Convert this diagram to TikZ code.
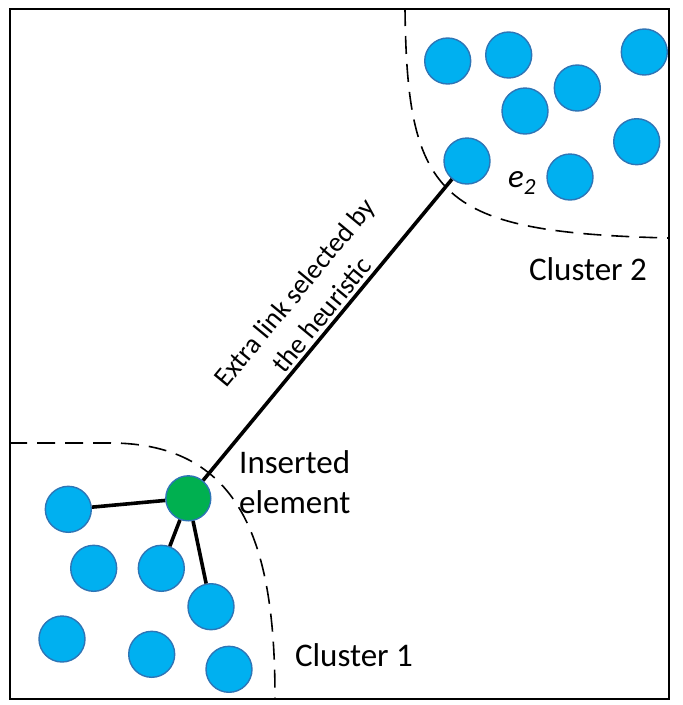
\documentclass[tikz,border=0pt]{standalone}
\usepackage{fontspec}
\setmainfont{Carlito}
\definecolor{dotblue}{RGB}{0,176,240}
\definecolor{dotedge}{RGB}{46,117,182}
\definecolor{dotgreen}{RGB}{0,176,80}
\tikzset{
  dot/.style={circle, fill=dotblue, draw=dotedge, line width=1.4pt, minimum size=46pt, inner sep=0pt},
  newdot/.style={dot, fill=dotgreen, minimum size=45pt},
  link/.style={line width=3.6pt, black},
  boundary/.style={line width=1.6pt, dash pattern=on 18pt off 10pt},
  lbl/.style={font=\fontsize{33}{40}\selectfont, inner sep=0pt},
  linklbl/.style={font=\fontsize{27.5}{35}\selectfont, align=center, inner sep=3pt}
}
\begin{document}
\begin{tikzpicture}[x=1pt, y=-1pt]
\useasboundingbox (0,0) rectangle (683,705);
% frame
\node[draw, line width=2.2pt, minimum width=659pt, minimum height=690pt, inner sep=0pt, anchor=north west] (frame) at (9,8) {};
% cluster boundaries
\begin{scope}
\clip (9,8) rectangle (668,698);
\draw[boundary] (9,443) -- (110,443) .. controls (245,443) and (275,550) .. (275,698);
\draw[boundary] (405,8) .. controls (407,200) and (440,232) .. (668,238);
\end{scope}
% cluster 2
\node[dot] (b1) at (447.7,61) {};
\node[dot] (b2) at (508.7,55) {};
\node[dot] (b3) at (644.3,52) {};
\node[dot] (b4) at (577.3,88) {};
\node[dot] (b5) at (525,111) {};
\node[dot] (b6) at (636.7,141.7) {};
\node[dot] (e2) at (467,161) {};
\node[dot] (b7) at (570,177) {};
% cluster 1
\node[dot] (a1) at (68.3,509.3) {};
\node[dot] (a2) at (93.7,568.3) {};
\node[dot] (a3) at (161.3,568.3) {};
\node[dot] (a4) at (211,606.7) {};
\node[dot] (a5) at (62,639) {};
\node[dot] (a6) at (151.7,654.3) {};
\node[dot] (a7) at (229,669.3) {};
\node[newdot] (ins) at (188.3,498.3) {};
% links
\draw[link] (ins) -- (a1);
\draw[link] (ins) -- (a3);
\draw[link] (ins) -- (a4);
\draw[link] (ins) -- node[linklbl, pos=0.52, above, sloped] (xlbl) {Extra link selected by\\the heuristic} (e2);
% labels
\node[lbl] (e2lbl) at (522,183) {\itshape e\textsubscript{2}};
\node[lbl] (c2lbl) at (588,269) {Cluster 2};
\node[lbl] (c1lbl) at (354,655) {Cluster 1};
\node[lbl, anchor=west, align=left] (inslbl) at (239,482) {Inserted\\element};
\end{tikzpicture}
\end{document}
